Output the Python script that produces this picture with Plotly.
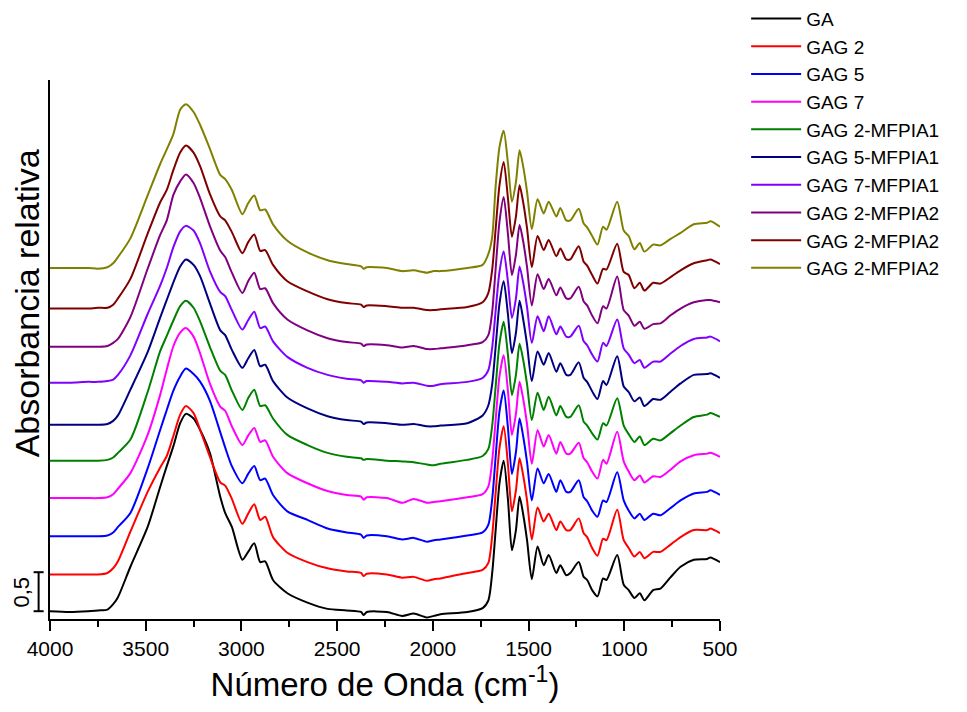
import plotly.graph_objects as go

# Wavenumber grid (cm^-1) shared by all spectra
wavenumber = [4000, 3900, 3800, 3750, 3700, 3670, 3645, 3580, 3490, 3425,
              3390, 3355, 3320, 3290, 3250, 3215, 3165, 3110, 3085, 3050,
              2995, 2965, 2933, 2902, 2876, 2835, 2760, 2655, 2550, 2450,
              2375, 2362, 2345, 2240, 2160, 2100, 2030, 1995, 1960, 1820,
              1740, 1710, 1690, 1672, 1652, 1630, 1608, 1587, 1566, 1547,
              1528, 1508, 1483, 1453, 1421, 1395, 1355, 1334, 1303, 1282,
              1238, 1212, 1194, 1168, 1140, 1111, 1093, 1037, 1003, 977,
              947, 919, 895, 849, 811, 760, 706, 637, 567, 550, 500]

# Relative absorbance of each sample (before vertical stacking)
ga = [0.01, 0.00, 0.01, 0.02, 0.03, 0.10, 0.19, 0.58, 1.09, 1.60,
      1.87, 2.13, 2.42, 2.54, 2.48, 2.33, 2.04, 1.47, 1.27, 1.09,
      0.67, 0.77, 0.88, 0.64, 0.65, 0.41, 0.24, 0.12, 0.04, 0.02,
      0.00, -0.04, 0.00, 0.00, -0.05, -0.02, -0.07, -0.05, -0.03, 0.00,
      0.05, 0.15, 0.50, 1.05, 1.65, 1.94, 1.45, 0.79, 1.05, 1.48,
      1.25, 0.92, 0.42, 0.84, 0.60, 0.73, 0.50, 0.60, 0.47, 0.50,
      0.64, 0.45, 0.41, 0.28, 0.20, 0.43, 0.41, 0.73, 0.35, 0.28,
      0.18, 0.24, 0.15, 0.28, 0.30, 0.44, 0.58, 0.67, 0.68, 0.70, 0.64]

gag2 = [0.00, 0.00, 0.00, 0.00, 0.02, 0.08, 0.17, 0.55, 1.06, 1.37,
        1.52, 1.78, 2.05, 2.16, 2.07, 1.85, 1.51, 1.18, 1.14, 0.97,
        0.65, 0.78, 0.90, 0.70, 0.74, 0.48, 0.28, 0.16, 0.08, 0.04,
        0.02, -0.02, 0.01, 0.00, -0.04, -0.03, -0.08, -0.06, -0.05, 0.02,
        0.06, 0.15, 0.50, 1.05, 1.62, 1.90, 1.42, 0.81, 1.08, 1.49,
        1.27, 0.95, 0.45, 0.86, 0.68, 0.78, 0.57, 0.68, 0.57, 0.57,
        0.72, 0.53, 0.48, 0.34, 0.24, 0.46, 0.44, 0.83, 0.44, 0.34,
        0.23, 0.29, 0.21, 0.29, 0.29, 0.38, 0.48, 0.57, 0.57, 0.59, 0.53]

gag5 = [0.00, 0.00, 0.00, 0.00, 0.01, 0.05, 0.12, 0.30, 0.87, 1.36,
        1.62, 1.87, 2.05, 2.15, 2.08, 1.98, 1.74, 1.33, 1.14, 0.90,
        0.68, 0.80, 0.90, 0.72, 0.74, 0.53, 0.32, 0.21, 0.10, 0.05,
        0.02, -0.02, 0.01, 0.00, -0.04, -0.02, -0.07, -0.05, -0.04, 0.01,
        0.05, 0.15, 0.48, 1.02, 1.60, 1.87, 1.40, 0.80, 1.08, 1.51,
        1.28, 0.95, 0.46, 0.87, 0.68, 0.80, 0.57, 0.72, 0.57, 0.57,
        0.72, 0.50, 0.45, 0.33, 0.25, 0.46, 0.44, 0.82, 0.46, 0.33,
        0.23, 0.29, 0.21, 0.29, 0.27, 0.36, 0.46, 0.55, 0.57, 0.59, 0.53]

gag7 = [0.00, 0.00, 0.00, 0.00, 0.01, 0.05, 0.12, 0.32, 0.81, 1.32,
        1.65, 1.95, 2.12, 2.18, 2.07, 1.85, 1.47, 1.17, 1.12, 0.92,
        0.68, 0.80, 0.90, 0.72, 0.74, 0.53, 0.32, 0.19, 0.09, 0.04,
        0.02, -0.02, 0.01, 0.00, -0.06, -0.01, -0.06, -0.05, -0.04, 0.01,
        0.05, 0.15, 0.48, 1.00, 1.56, 1.83, 1.38, 0.81, 1.08, 1.49,
        1.27, 0.95, 0.44, 0.87, 0.66, 0.81, 0.57, 0.72, 0.57, 0.57,
        0.71, 0.51, 0.46, 0.34, 0.25, 0.49, 0.44, 0.85, 0.47, 0.34,
        0.23, 0.29, 0.20, 0.28, 0.27, 0.36, 0.47, 0.55, 0.57, 0.58, 0.53]

gag2_mfpia1 = [0.00, 0.00, 0.00, 0.00, 0.01, 0.04, 0.10, 0.27, 0.88, 1.40,
               1.60, 1.80, 1.98, 2.05, 1.96, 1.78, 1.46, 1.15, 1.10, 0.90,
               0.65, 0.80, 0.91, 0.70, 0.71, 0.54, 0.33, 0.20, 0.10, 0.05,
               0.03, 0.01, 0.02, 0.00, -0.01, -0.02, -0.05, -0.06, -0.04, 0.01,
               0.06, 0.15, 0.45, 0.95, 1.50, 1.78, 1.36, 0.84, 1.10, 1.50,
               1.29, 0.98, 0.52, 0.87, 0.65, 0.82, 0.58, 0.70, 0.56, 0.56,
               0.71, 0.50, 0.45, 0.35, 0.27, 0.48, 0.45, 0.80, 0.45, 0.34,
               0.24, 0.31, 0.20, 0.28, 0.26, 0.35, 0.45, 0.56, 0.59, 0.61, 0.56]

gag5_mfpia1 = [0.00, 0.00, 0.00, 0.00, 0.01, 0.05, 0.12, 0.45, 0.93, 1.37,
               1.60, 1.83, 2.03, 2.12, 2.05, 1.90, 1.56, 1.21, 1.15, 0.96,
               0.73, 0.85, 0.96, 0.75, 0.77, 0.56, 0.35, 0.21, 0.11, 0.06,
               0.04, 0.01, 0.03, 0.02, 0.00, 0.01, -0.02, -0.02, -0.01, 0.02,
               0.12, 0.25, 0.52, 1.00, 1.55, 1.84, 1.42, 0.92, 1.18, 1.59,
               1.35, 1.03, 0.56, 0.94, 0.77, 0.92, 0.68, 0.79, 0.64, 0.64,
               0.80, 0.60, 0.55, 0.43, 0.33, 0.56, 0.51, 0.88, 0.49, 0.42,
               0.30, 0.35, 0.24, 0.33, 0.32, 0.42, 0.53, 0.64, 0.65, 0.66, 0.60]

gag7_mfpia1 = [0.00, 0.00, 0.01, 0.01, 0.02, 0.04, 0.10, 0.35, 0.88, 1.24,
               1.47, 1.74, 1.94, 2.01, 1.95, 1.78, 1.43, 1.16, 1.11, 0.93,
               0.68, 0.80, 0.91, 0.70, 0.72, 0.53, 0.33, 0.19, 0.10, 0.05,
               0.03, 0.00, 0.02, 0.01, -0.01, 0.00, -0.04, -0.04, -0.02, 0.01,
               0.06, 0.16, 0.45, 0.92, 1.42, 1.68, 1.30, 0.83, 1.08, 1.49,
               1.28, 0.97, 0.51, 0.85, 0.66, 0.85, 0.62, 0.72, 0.59, 0.59,
               0.73, 0.53, 0.48, 0.36, 0.27, 0.51, 0.47, 0.81, 0.44, 0.36,
               0.25, 0.29, 0.19, 0.27, 0.27, 0.37, 0.47, 0.56, 0.58, 0.59, 0.53]

gag2_mfpia2_a = [0.00, 0.00, 0.00, 0.00, 0.01, 0.05, 0.10, 0.38, 1.00, 1.43,
                 1.62, 1.95, 2.12, 2.21, 2.10, 1.90, 1.55, 1.23, 1.15, 0.95,
                 0.69, 0.84, 0.95, 0.74, 0.75, 0.56, 0.35, 0.21, 0.11, 0.06,
                 0.04, 0.01, 0.03, 0.02, -0.01, 0.01, -0.03, -0.03, -0.02, 0.02,
                 0.06, 0.15, 0.45, 1.00, 1.60, 1.92, 1.45, 0.92, 1.18, 1.56,
                 1.35, 1.02, 0.53, 0.93, 0.74, 0.87, 0.66, 0.76, 0.62, 0.62,
                 0.77, 0.58, 0.53, 0.40, 0.30, 0.52, 0.49, 0.90, 0.47, 0.40,
                 0.27, 0.32, 0.23, 0.29, 0.30, 0.40, 0.49, 0.57, 0.60, 0.60, 0.57]

gag2_mfpia2_b = [0.00, 0.00, 0.00, 0.01, 0.01, 0.05, 0.13, 0.38, 0.96, 1.36,
                 1.52, 1.78, 2.00, 2.09, 2.00, 1.82, 1.47, 1.18, 1.13, 0.98,
                 0.71, 0.85, 0.95, 0.74, 0.75, 0.56, 0.35, 0.22, 0.12, 0.07,
                 0.05, 0.02, 0.04, 0.03, 0.01, 0.01, -0.02, -0.02, -0.01, 0.02,
                 0.08, 0.20, 0.50, 1.02, 1.58, 1.88, 1.42, 0.92, 1.18, 1.58,
                 1.36, 1.03, 0.53, 0.93, 0.75, 0.88, 0.67, 0.77, 0.63, 0.63,
                 0.80, 0.60, 0.55, 0.43, 0.32, 0.51, 0.50, 0.83, 0.47, 0.43,
                 0.26, 0.33, 0.23, 0.33, 0.32, 0.40, 0.49, 0.58, 0.62, 0.63, 0.57]

gag2_mfpia2_c = [0.00, 0.00, 0.00, -0.01, 0.01, 0.06, 0.14, 0.38, 0.93, 1.33,
                 1.52, 1.72, 2.03, 2.10, 2.00, 1.83, 1.53, 1.19, 1.14, 1.00,
                 0.69, 0.83, 0.93, 0.74, 0.75, 0.56, 0.35, 0.20, 0.10, 0.05,
                 0.02, -0.01, 0.01, 0.00, -0.04, -0.03, -0.06, -0.04, -0.04, 0.00,
                 0.04, 0.18, 0.40, 1.05, 1.55, 1.76, 1.35, 0.85, 1.10, 1.51,
                 1.30, 0.98, 0.50, 0.88, 0.70, 0.85, 0.66, 0.77, 0.61, 0.61,
                 0.76, 0.57, 0.52, 0.41, 0.30, 0.53, 0.49, 0.85, 0.48, 0.41,
                 0.24, 0.32, 0.21, 0.30, 0.29, 0.37, 0.45, 0.56, 0.58, 0.60, 0.53]

names = ["GA", "GAG 2", "GAG 5", "GAG 7", "GAG 2-MFPIA1", "GAG 5-MFPIA1",
         "GAG 7-MFPIA1", "GAG 2-MFPIA2", "GAG 2-MFPIA2", "GAG 2-MFPIA2"]
spectra = [ga, gag2, gag5, gag7, gag2_mfpia1, gag5_mfpia1, gag7_mfpia1,
           gag2_mfpia2_a, gag2_mfpia2_b, gag2_mfpia2_c]
offsets = [0.00, 0.48, 0.97, 1.46, 1.94, 2.40, 2.94, 3.40, 3.89, 4.41]
colors = ["#000000", "#FF0000", "#0000FF", "#FF00FF", "#008000", "#000080",
          "#8000FF", "#800080", "#800000", "#808000"]

scale_bar = 0.5  # absorbance units shown by the bar on the left

FONT = "Liberation Sans, Arial, sans-serif"

fig = go.Figure()
for name, values, off, color in zip(names, spectra, offsets, colors):
    fig.add_trace(go.Scatter(
        x=wavenumber,
        y=[v + off for v in values],
        mode="lines",
        name=name,
        line=dict(color=color, width=2, shape="spline", smoothing=0.7),
    ))

fig.update_layout(
    width=967, height=712,
    margin=dict(l=50, r=247, t=80, b=93, autoexpand=False),
    paper_bgcolor="white", plot_bgcolor="white",
    font=dict(family=FONT, color="black"),
    showlegend=True,
    legend=dict(
        x=1.039, xanchor="left", y=1.149, yanchor="top",
        font=dict(family=FONT, size=19, color="black"),
        bgcolor="rgba(0,0,0,0)", itemwidth=50,
    ),
    xaxis=dict(
        range=[4000, 500], autorange=False,
        showline=True, linecolor="black", linewidth=2,
        ticks="outside", ticklen=10, tickwidth=2, tickcolor="black",
        tickmode="linear", tick0=500, dtick=500,
        minor=dict(ticks="outside", ticklen=6, tickwidth=2,
                   tickcolor="black", dtick=250, tick0=500),
        showgrid=False, zeroline=False,
        tickfont=dict(family=FONT, size=21, color="black"),
        title=dict(text="Número de Onda (cm<sup>-1</sup>)",
                   font=dict(family=FONT, size=33, color="black"),
                   standoff=14),
    ),
    yaxis=dict(
        range=[-0.09, 6.82], autorange=False,
        showline=True, linecolor="black", linewidth=2,
        ticks="", showticklabels=False, showgrid=False, zeroline=False,
    ),
)

# Y-axis title, placed a little above the middle of the axis
fig.add_annotation(text="Absorbancia relativa", xref="paper", yref="paper",
                   x=-0.034, y=0.586, showarrow=False,
                   xanchor="center", yanchor="middle", textangle=-90,
                   font=dict(family=FONT, size=34, color="black"))

# Vertical scale bar with end caps, in data units on the y axis
bar_x = -0.017
cap_half = 0.0075
bar_y0 = 0.01
fig.add_shape(type="line", xref="paper", yref="y", x0=bar_x, x1=bar_x,
              y0=bar_y0, y1=bar_y0 + scale_bar, line=dict(color="black", width=2))
for yy in (bar_y0, bar_y0 + scale_bar):
    fig.add_shape(type="line", xref="paper", yref="y",
                  x0=bar_x - cap_half, x1=bar_x + cap_half, y0=yy, y1=yy,
                  line=dict(color="black", width=2))
fig.add_annotation(text=str(scale_bar).replace(".", ","), xref="paper", yref="y",
                   x=-0.042, y=bar_y0 + scale_bar / 2, showarrow=False,
                   xanchor="center", yanchor="middle",
                   textangle=-90, font=dict(family=FONT, size=22, color="black"))

fig.write_html("out.html")
